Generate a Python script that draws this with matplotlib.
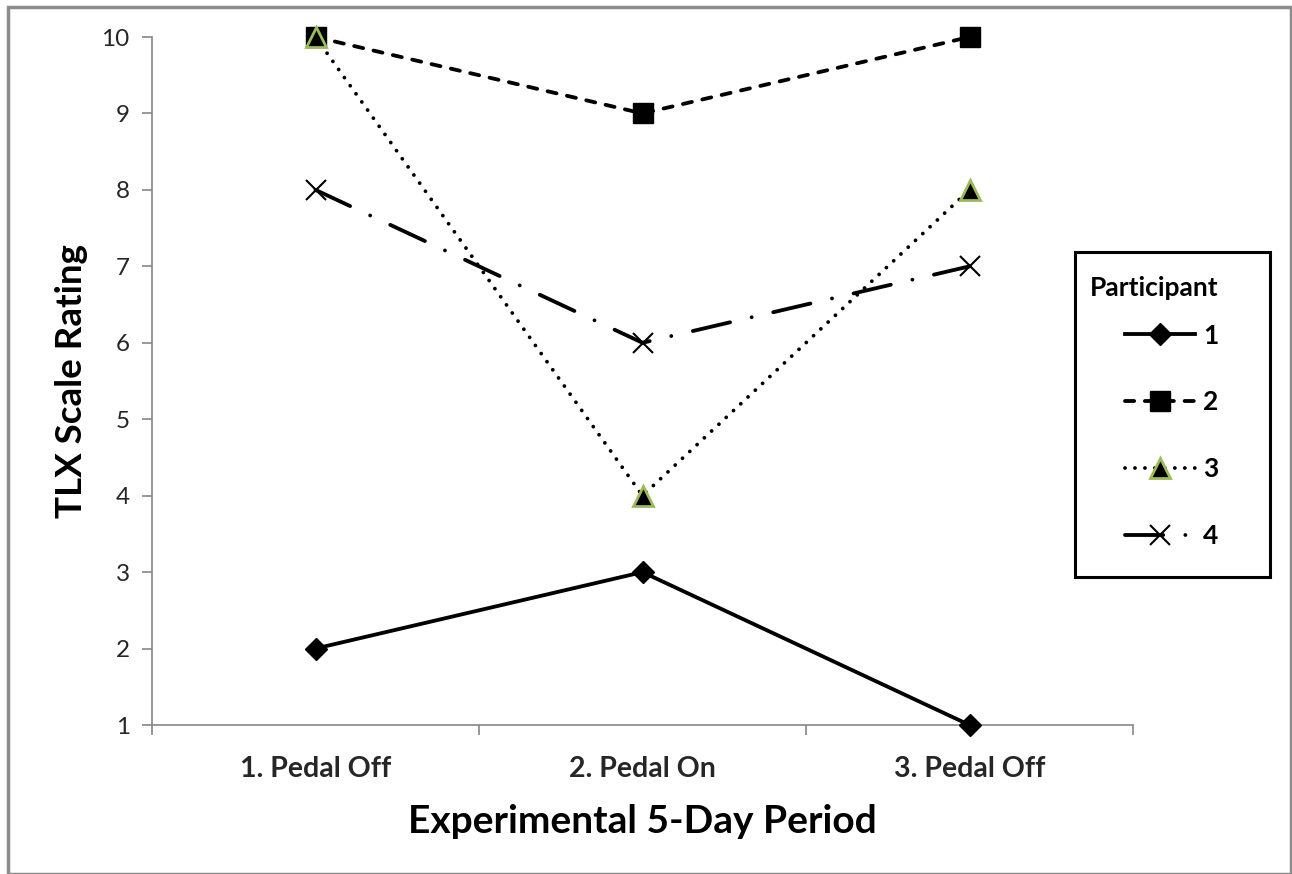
import matplotlib
matplotlib.use("Agg")
import matplotlib.pyplot as plt
from matplotlib.patches import Rectangle

categories = ["1. Pedal Off", "2. Pedal On", "3. Pedal Off"]
participants = ["1", "2", "3", "4"]
p1 = [2, 3, 1]
p2 = [10, 9, 10]
p3 = [10, 4, 8]
p4 = [8, 6, 7]
yticks = [1, 2, 3, 4, 5, 6, 7, 8, 9, 10]

plt.rcParams['font.family'] = ['Lato', 'DejaVu Sans']

fig = plt.figure(figsize=(12.92, 8.74), dpi=100)
ax = fig.add_axes([152/1292, 1-725/874, (1133-152)/1292, (725-37)/874])

x = list(range(len(categories)))
lw = 2.75
ax.plot(x, p1, color='black', lw=lw, marker='D', markersize=11, mfc='black', mec='black',
        label=participants[0], zorder=3, clip_on=False)
ax.plot(x, p2, color='black', lw=lw, marker='s', markersize=14, mfc='black', mec='black',
        linestyle=(0, (2.4, 2.8)), dash_capstyle='round', label=participants[1], zorder=3, clip_on=False)
ax.plot(x, p3, color='black', lw=lw, marker='^', markersize=14, mfc='black', mec='#9BBB59', mew=2,
        linestyle=(0, (0.01, 2.6)), dash_capstyle='round', label=participants[2], zorder=4, clip_on=False)
ax.plot(x, p4, color='black', lw=lw, marker='x', markersize=14, mec='black', mew=1.5,
        linestyle=(0, (10, 5.8, 0.01, 5.8)), dash_capstyle='round', label=participants[3], zorder=3,
        clip_on=False)

ax.set_xlim(-0.5, 2.5)
ax.set_ylim(1, 10)
ax.set_yticks(yticks)
ax.set_yticklabels([str(v) for v in yticks])
ax.set_xticks(x)
ax.set_xticklabels(categories, fontweight='bold')
ax.set_xticks([-0.5, 0.5, 1.5, 2.5], minor=True)

for s in ['top', 'right']:
    ax.spines[s].set_visible(False)
for s in ['left', 'bottom']:
    ax.spines[s].set_color('#868686')
    ax.spines[s].set_linewidth(1.2)

ax.tick_params(axis='y', which='major', length=7, width=1.2, color='#868686',
               labelsize=17.5, labelcolor='#262626', pad=9)
ax.tick_params(axis='x', which='major', length=0, labelsize=20.5, labelcolor='#262626', pad=22)
ax.tick_params(axis='x', which='minor', length=7, width=1.2, color='#868686', direction='out')

ax.set_ylabel("TLX Scale Rating", fontsize=26.5, fontweight='bold', labelpad=9.5)
ax.set_xlabel("Experimental 5-Day Period", fontsize=28, fontweight='bold', labelpad=16)

leg = ax.legend(title="Participant", loc='upper left', bbox_to_anchor=(1090/1292, 1-276/874),
                bbox_transform=fig.transFigure, frameon=False,
                prop={'weight': 'bold', 'size': 19},
                title_fontproperties={'weight': 'bold', 'size': 19},
                handlelength=2.65, labelspacing=1.62, borderpad=0, handletextpad=0.3,
                borderaxespad=0)
leg._legend_box.align = "right"
leg._legend_box.sep = 17
for t in leg.get_texts():
    t.set_color('black')

# legend frame
fig.patches.append(Rectangle((1075/1292, 1-577/874), (1270-1075)/1292, (577-252)/874,
                             transform=fig.transFigure, fill=False, edgecolor='black',
                             linewidth=2.2, zorder=5))

# outer figure border
fig.patches.append(Rectangle((8/1292, 0), (1291-8)/1292, 1-7/874, transform=fig.transFigure,
                             fill=False, edgecolor='#8C8C8C', linewidth=2.5))

fig.savefig("out.png", dpi=100)
